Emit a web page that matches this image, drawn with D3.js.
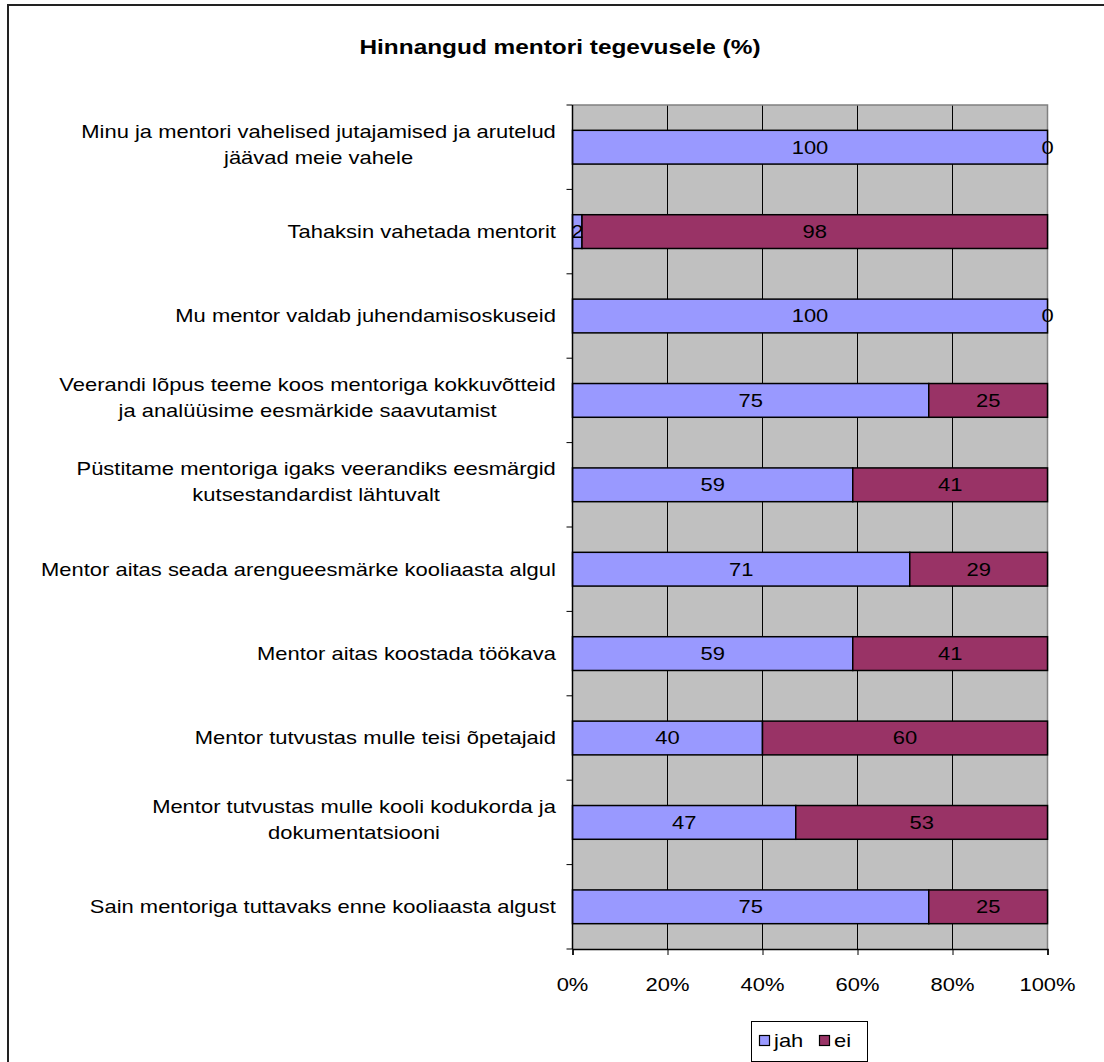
<!DOCTYPE html>
<html><head><meta charset="utf-8">
<script src="https://cdn.jsdelivr.net/npm/d3@7"></script>
<style>body{margin:0;background:#fff;} svg{display:block;font-family:"Liberation Sans",Arial,sans-serif;}</style>
</head><body>
<svg id="c" width="1104" height="1062"></svg>
<script>
const title = "Hinnangud mentori tegevusele (%)";
const categories = [
  "Minu ja mentori vahelised jutajamised ja arutelud\njäävad meie vahele",
  "Tahaksin vahetada mentorit",
  "Mu mentor valdab juhendamisoskuseid",
  "Veerandi lõpus teeme koos mentoriga kokkuvõtteid\nja analüüsime eesmärkide saavutamist",
  "Püstitame mentoriga igaks veerandiks eesmärgid\nkutsestandardist lähtuvalt",
  "Mentor aitas seada arengueesmärke kooliaasta algul",
  "Mentor aitas koostada töökava",
  "Mentor tutvustas mulle teisi õpetajaid",
  "Mentor tutvustas mulle kooli kodukorda ja\ndokumentatsiooni",
  "Sain mentoriga tuttavaks enne kooliaasta algust"
];
const seriesNames = ["jah", "ei"];
const jah = [100, 2, 100, 75, 59, 71, 59, 40, 47, 75];
const ei  = [0, 98, 0, 25, 41, 29, 41, 60, 53, 25];
const xTicks = [0, 0.2, 0.4, 0.6, 0.8, 1.0];
const colors = ["#9999FF", "#993366"];

const SX = 1.22;   // horizontal stretch of all text in the reference
const FS = 18;

const svg = d3.select("#c");
const L = 572.5, R = 1047.5, T = 105, B = 949;

// stretched text helper
function stext(parent, x, y, str, anchor, opts={}) {
  const t = parent.append("text")
    .attr("transform", `translate(${x},${y}) scale(${SX},1)`)
    .attr("text-anchor", anchor).attr("dy","0.36em")
    .attr("font-size", opts.size || FS).attr("fill","#000").text(str);
  if (opts.bold) t.attr("font-weight","bold");
  return t;
}

// outer frame
svg.append("path").attr("d", "M8,1062 V5 H1104").attr("fill","none").attr("stroke","#222").attr("stroke-width",2);

stext(svg, 560, 47, title, "middle", {size:20, bold:true});

const x = d3.scaleLinear().domain([0,1]).range([L,R]);
const y = d3.scaleBand().domain(categories).range([T,B]);
const bw = y.bandwidth();

svg.append("rect").attr("x",L).attr("y",T).attr("width",R-L).attr("height",B-T).attr("fill","#C0C0C0");
svg.append("g").selectAll("line").data(xTicks.slice(1,-1)).join("line")
  .attr("x1",d=>x(d)).attr("x2",d=>x(d)).attr("y1",T).attr("y2",B).attr("stroke","#000").attr("stroke-width",1);
svg.append("path").attr("d",`M${L},${T} H${R} V${B}`).attr("fill","none").attr("stroke","#808080").attr("stroke-width",1.5);

const rows = categories.map((c,i)=>({c, v:[jah[i], ei[i]]}));
const stack = d3.stack().keys([0,1]).value((d,k)=>d.v[k]/100)(rows);

stack.forEach((s,k)=>{
  svg.append("g").selectAll("rect").data(s).join("rect")
    .attr("x",d=>x(d[0])).attr("width",d=>x(d[1])-x(d[0]))
    .attr("y",d=>y(d.data.c)+bw*0.3).attr("height",bw*0.4)
    .attr("fill",colors[k]).attr("stroke","#000").attr("stroke-width",1.5);
});
const vg = svg.append("g");
stack.forEach((s,k)=>{
  s.forEach(d=>{
    stext(vg, (x(d[0])+x(d[1]))/2, y(d.data.c)+bw/2, d.data.v[k], "middle");
  });
});

// y axis
svg.append("line").attr("x1",L).attr("x2",L).attr("y1",T).attr("y2",B).attr("stroke","#000").attr("stroke-width",1.5);
const yt = d3.range(categories.length+1).map(i=>T+i*bw);
svg.append("g").selectAll("line").data(yt).join("line")
  .attr("x1",L-6).attr("x2",L).attr("y1",d=>d).attr("y2",d=>d).attr("stroke","#000");

// category labels
categories.forEach(c=>{
  const lines = c.split("\n");
  const g = svg.append("g");
  const cy = y(c)+bw/2 - (lines.length>1?3:0);
  const ts = lines.map((ln,j)=> g.append("text").attr("font-size",FS).attr("text-anchor","middle")
    .attr("dy","0.36em").text(ln));
  const maxW = d3.max(ts, t=>t.node().getComputedTextLength());
  ts.forEach((t,j)=>t.attr("transform",
    `translate(${556 - maxW*SX/2},${cy + (j-(lines.length-1)/2)*26}) scale(${SX},1)`));
});

// x axis
const xAxis = d3.axisBottom(x).tickValues(xTicks).tickFormat("").tickSize(6);
const xg = svg.append("g").attr("transform",`translate(0,${B})`).call(xAxis);
xg.select(".domain").attr("stroke","#000").attr("stroke-width",1.5);
xg.selectAll(".tick line").attr("stroke","#000");
const fmt = d3.format(".0%");
xTicks.forEach(t=> stext(svg, x(t), 985, fmt(t), "middle"));

// legend
const lg = svg.append("g");
lg.append("rect").attr("x",751.5).attr("y",1021.5).attr("width",116).attr("height",40).attr("fill","#fff").attr("stroke","#000");
const items = [{n:seriesNames[0],c:colors[0],x:759},{n:seriesNames[1],c:colors[1],x:819}];
items.forEach(it=>{
  lg.append("rect").attr("x",it.x+0.5).attr("y",1035.5).attr("width",10).attr("height",10).attr("fill",it.c).attr("stroke","#000").attr("stroke-width",1.2);
  stext(lg, it.x+15, 1041, it.n, "start");
});
</script>
</body></html>
